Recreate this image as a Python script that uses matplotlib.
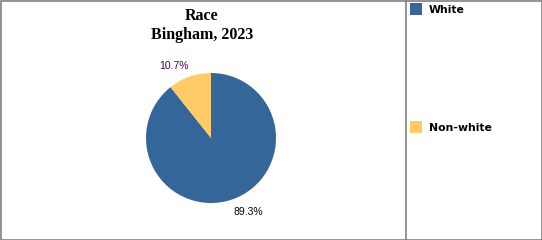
import matplotlib
matplotlib.use("Agg")
import matplotlib.pyplot as plt
from matplotlib.patches import Rectangle
from matplotlib.lines import Line2D

categories = ["White", "Non-white"]
values = [89.3, 10.7]
colors = ["#346699", "#FECB66"]
label_colors = ["#000000", "#4B0055"]
title_lines = ["Race", "Bingham, 2023"]

W, H = 542, 240
fig = plt.figure(figsize=(W / 100, H / 100), dpi=100)

cx, cy, r = 211, 138, 65
ax = fig.add_axes([(cx - r) / W, (H - cy - r) / H, 2 * r / W, 2 * r / H])
wedges, texts, autotexts = ax.pie(
    values, colors=colors, startangle=90, counterclock=False,
    autopct="%.1f%%", pctdistance=1.25, radius=1,
    textprops=dict(fontsize=7.5, family="Liberation Sans"),
)
label_pos = [(0.57, -1.14), (-0.57, 1.11)]
for t, c, p in zip(autotexts, label_colors, label_pos):
    t.set_color(c)
    t.set_position(p)
ax.set_xlim(-1, 1)
ax.set_ylim(-1, 1)
ax.set_aspect("equal")
ax.axis("off")

fig.text(202 / W, 1 - 16 / H, title_lines[0], ha="center", va="center",
         family="Liberation Serif", fontweight="bold", fontsize=11.5)
fig.text(202 / W, 1 - 35 / H, title_lines[1], ha="center", va="center",
         family="Liberation Serif", fontweight="bold", fontsize=11.5)

# legend
ys = [9, 127]
for cat, col, y in zip(categories, colors, ys):
    fig.patches.append(Rectangle((410 / W, 1 - (y + 6) / H), 12 / W, 12 / H,
                                 transform=fig.transFigure, facecolor=col,
                                 edgecolor="none"))
    fig.text(429 / W, 1 - (y + 1) / H, cat, ha="left", va="center",
             family="DejaVu Sans", fontweight="bold", fontsize=7.8)

# frame and divider
gray = "#808080"
fig.patches.append(Rectangle((0.5 / W, 0.5 / H), (W - 1) / W, (H - 1) / H,
                             transform=fig.transFigure, facecolor="none",
                             edgecolor=gray, linewidth=1.2))
fig.lines.append(Line2D([405.5 / W, 405.5 / W], [0, 1], transform=fig.transFigure,
                        color=gray, linewidth=1.2))

fig.savefig("out.png", dpi=100)
